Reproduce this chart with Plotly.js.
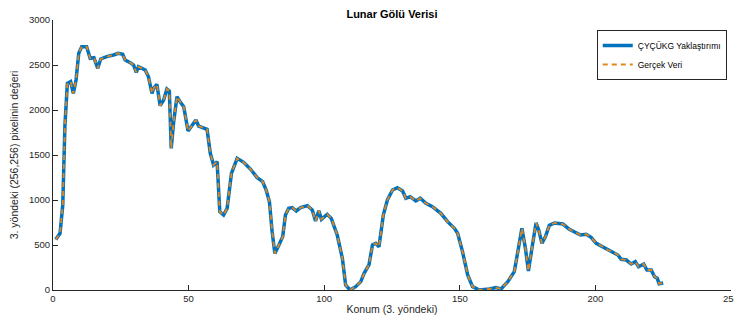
<!DOCTYPE html>
<html>
<head>
<meta charset="utf-8">
<script src="https://cdn.plot.ly/plotly-3.0.1.min.js"></script>
<style>html,body{margin:0;padding:0;background:#fff;}#chart{width:734px;height:322px;}</style>
</head>
<body>
<div id="chart"></div>
<script>
// Konum (3. yöndeki) – sample positions
const konum = [1,2.6,3.6,4.4,5.3,6.5,7.5,8.5,9.5,10.6,12.4,13.7,15.1,16.5,17.6,19.8,22.3,24.1,25.7,26.6,28.5,29.7,30.7,31.5,34,35.2,36.5,37.1,38.3,39.5,40.8,42,42.9,43.6,44.5,45.7,47,48.2,49.8,51.3,52.7,53.7,56.8,58,59.2,60.5,61.5,62.9,64.2,65.8,67.9,70.3,72.8,75.3,77.3,78.6,79.8,80.8,81.8,83.3,84.7,85.7,86.9,88.2,89.7,91.3,93.8,95.6,96.8,98,99,101.1,102.6,104.8,106.7,107.9,109.5,111.6,113.5,114.7,116.5,117.8,119,120.2,121.8,123.3,125.2,127,128.9,130.1,131.7,133.8,135.4,137.5,139.9,143,145.5,148,149.2,151,152.9,154.7,157.2,160.9,163.3,165.2,167.7,170.1,171.7,172.9,174.2,175.3,176.6,178.1,179.1,180.3,181.6,183,184.9,186.1,188,190.4,192.3,194.5,196.6,198.4,200.3,202.8,204.6,206.5,208.3,209.5,211.4,213.2,214.7,215.9,217.8,219,220.6,221.8,222.8,223.5,225];
// Gerçek veri (pixel value)
const gercekVeri = [560,630,944,1833,2296,2315,2185,2333,2630,2704,2704,2574,2581,2463,2567,2593,2611,2630,2619,2556,2526,2500,2419,2481,2444,2370,2185,2241,2285,2048,2111,2233,2211,1574,1870,2148,2085,2037,1767,1833,1889,1822,1785,1519,1389,1426,870,833,907,1296,1463,1419,1344,1248,1204,1111,981,648,407,500,593,833,907,915,878,915,937,889,767,881,785,841,796,611,352,56,0,37,93,185,278,500,519,481,833,1000,1111,1137,1100,1019,1037,989,1019,963,926,852,759,685,630,426,167,37,0,11,26,11,93,204,463,685,463,211,463,745,667,519,593,718,745,741,733,674,648,611,619,585,519,481,444,426,389,341,333,289,315,259,289,222,222,148,130,70,78];
// ÇYÇÜKG yaklaştırımı (visually identical to real data)
const yaklasim = gercekVeri.slice();

const seriesNames = ['ÇYÇÜKG Yaklaştırımı', 'Gerçek Veri'];
const xTicks = [0,50,100,150,200,250];
const yTicks = [0,500,1000,1500,2000,2500,3000];

const traces = [
  {x: konum, y: yaklasim, name: seriesNames[0], type: 'scatter', mode: 'lines',
   line: {color: '#0072BD', width: 3.5}},
  {x: konum, y: gercekVeri, name: seriesNames[1], type: 'scatter', mode: 'lines',
   line: {color: '#E0861E', width: 1.8, dash: '5px,4px'}}
];

const axisCommon = {
  showgrid: false, zeroline: false, showline: true, linecolor: '#262626', linewidth: 1,
  ticks: 'inside', ticklen: 5, tickcolor: '#262626', tickwidth: 1,
  tickfont: {family: 'Liberation Sans, Arial, sans-serif', size: 9.5, color: '#262626'},
  mirror: false, automargin: false, ticklabeloverflow: 'allow'
};

const layout = {
  width: 734, height: 322,
  margin: {l: 53, r: 3, t: 20, b: 32, autoexpand: false},
  paper_bgcolor: '#ffffff', plot_bgcolor: '#ffffff',
  font: {family: 'Liberation Sans, Arial, sans-serif', color: '#262626'},
  title: {text: '<b>Lunar Gölü Verisi</b>', font: {size: 11, color: '#000'},
          x: 0.534, xanchor: 'center', y: 0.957, yanchor: 'middle', yref: 'container', automargin: false},
  xaxis: Object.assign({}, axisCommon, {
    range: [0, 250], tickvals: xTicks, ticktext: xTicks.map(String),
    title: {text: 'Konum (3. yöndeki)', font: {size: 10.5, color: '#262626'}, standoff: 2}
  }),
  yaxis: Object.assign({}, axisCommon, {
    range: [0, 3000], tickvals: yTicks, ticktext: yTicks.map(String),
    title: {text: '3. yöndeki (256,256) pixelinin değeri', font: {size: 10.5, color: '#262626'}, standoff: 8}
  }),
  showlegend: true,
  legend: {x: 0.802, y: 0.963, xanchor: 'left', yanchor: 'top',
           bordercolor: '#262626', borderwidth: 1, bgcolor: '#ffffff',
           font: {size: 8.5, color: '#000'}, itemwidth: 30, tracegroupgap: 0}
};

Plotly.newPlot('chart', traces, layout, {staticPlot: true, displayModeBar: false});
</script>
</body>
</html>
